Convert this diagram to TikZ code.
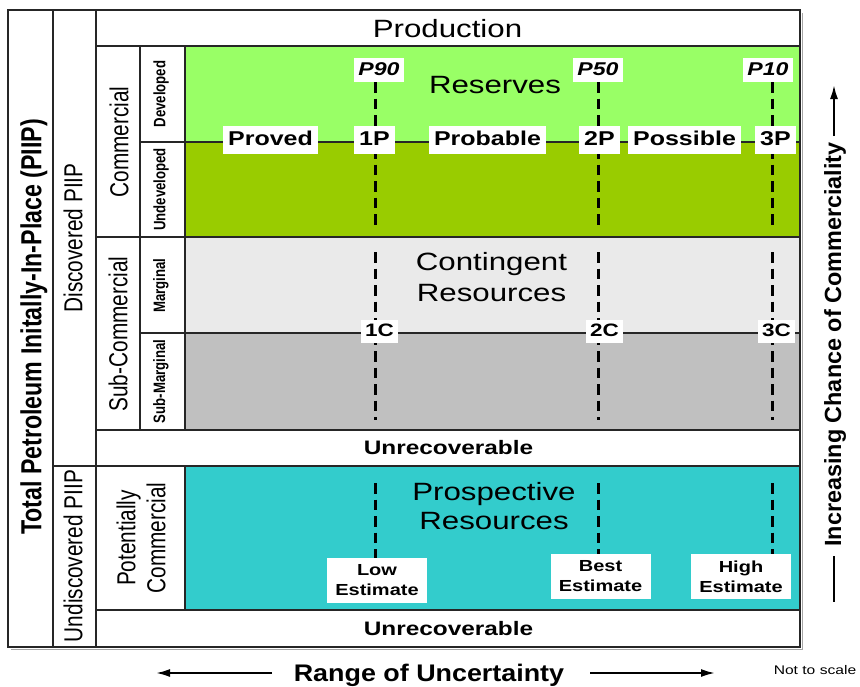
\documentclass[tikz,border=0pt]{standalone}
\usepackage{fontspec}
\setmainfont{Liberation Sans}
\newfontfamily\wf[FakeStretch=1.25]{Liberation Sans}
\newfontfamily\rf[FakeStretch=0.8]{Liberation Sans}
\newfontfamily\mf[FakeStretch=1.12]{Liberation Sans}
\usetikzlibrary{arrows.meta}
\definecolor{lgreen}{HTML}{99FF66}
\definecolor{dgreen}{HTML}{99CC00}
\definecolor{lgray}{HTML}{EAEAEA}
\definecolor{mgray}{HTML}{C0C0C0}
\definecolor{cyanf}{HTML}{33CCCC}
\newcommand\fs[2]{\fontsize{#1}{#2}\selectfont}
\begin{document}
\begin{tikzpicture}[x=1pt,y=-1pt,
  frame/.style={line width=2.2pt, draw=black!85},
  midln/.style={line width=1.5pt, draw=black!85},
  thinln/.style={line width=1.1pt, draw=black!85},
  dashln/.style={line width=3pt, dash pattern=on 10.5pt off 6pt},
  arr/.style={line width=2pt, -{Latex[length=14pt,width=8pt]}},
  lbl/.style={fill=white, inner xsep=5pt, inner ysep=4.5pt, text height=15pt, text depth=4pt, font=\wf\bfseries\fs{20}{24}},
  plbl/.style={fill=white, inner xsep=4pt, inner ysep=3.5pt, text height=13.5pt, text depth=3pt, font=\wf\bfseries\itshape\fs{18.5}{22}},
  clbl/.style={fill=white, inner xsep=4.5pt, inner ysep=3.5pt, text height=13pt, text depth=3pt, font=\wf\bfseries\fs{18}{22}},
  est/.style={fill=white, minimum width=100pt, minimum height=45pt, inner sep=0pt, align=center, font=\wf\bfseries\fs{16}{20}},
  big/.style={font=\wf\fs{25}{31}, align=center, inner sep=0pt},
  unr/.style={font=\wf\bfseries\fs{19.5}{24}, inner sep=0pt},
  vt/.style={rotate=90, inner sep=0pt, align=center},
  vreg/.style={vt, font=\rf\fs{26}{31}},
  vsm/.style={vt, font=\rf\bfseries\fs{16.5}{20}}
]
\useasboundingbox (0,0) rectangle (860,686);
% fills
\fill[lgreen] (185,46) rectangle (800,142);
\fill[dgreen] (185,142) rectangle (800,237);
\fill[lgray] (185,237) rectangle (800,333);
\fill[mgray] (185,333) rectangle (800,430);
\fill[cyanf] (185,466) rectangle (800,610);
% shadow
\draw[black!35, line width=1.6pt] (802.5,13) -- (802.5,649.5) -- (11,649.5);
% grid lines
\draw[thinln] (140,142) -- (800,142);
\draw[thinln] (140,333) -- (800,333);
\draw[frame] (8,10) rectangle (800,647);
\draw[frame] (53,10) -- (53,647);
\draw[frame] (96,10) -- (96,647);
\draw[frame] (96,46) -- (800,46);
\draw[midln] (140,46) -- (140,430);
\draw[midln] (185,46) -- (185,430);
\draw[midln] (185,466) -- (185,610);
\draw[frame] (96,237) -- (800,237);
\draw[frame] (96,430) -- (800,430);
\draw[frame] (53,466) -- (800,466);
\draw[frame] (96,610) -- (800,610);
% dashed lines
\coordinate (ra1) at (375,82);  \coordinate (ra2) at (375,226);
\coordinate (rb1) at (598,82);  \coordinate (rb2) at (598,226);
\coordinate (rc1) at (772,82);  \coordinate (rc2) at (772,226);
\coordinate (ca1) at (375,252); \coordinate (ca2) at (375,420);
\coordinate (cb1) at (598,252); \coordinate (cb2) at (598,420);
\coordinate (cc1) at (772,252); \coordinate (cc2) at (772,420);
\coordinate (pa1) at (375,483); \coordinate (pa2) at (375,558);
\coordinate (pb1) at (598,483); \coordinate (pb2) at (598,554);
\coordinate (pc1) at (772,483); \coordinate (pc2) at (772,554);
\foreach \a/\b in {ra1/ra2,rb1/rb2,rc1/rc2,ca1/ca2,cb1/cb2,cc1/cc2,pa1/pa2,pb1/pb2,pc1/pc2}
  \draw[dashln] (\a) -- (\b);
% labels
\node[plbl] (p90) at (379,70) {P90};
\node[plbl] (p50) at (598,70) {P50};
\node[plbl] (p10) at (768,70) {P10};
\node[lbl] (proved) at (270.5,140) {Proved};
\node[lbl] (l1p) at (374.5,140) {1P};
\node[lbl] (prob) at (487.5,140) {Probable};
\node[lbl] (l2p) at (599.5,140) {2P};
\node[lbl] (poss) at (684.5,140) {Possible};
\node[lbl] (l3p) at (775.5,140) {3P};
\node[clbl] (l1c) at (379.5,331.5) {1C};
\node[clbl] (l2c) at (604.5,331.5) {2C};
\node[clbl] (l3c) at (776.5,331.5) {3C};
\node[est] (low) at (377,580.5) {Low\\Estimate};
\node[est] (best) at (600.5,576.5) {Best\\Estimate};
\node[est] (high) at (741,576.5) {High\\Estimate};
% big texts
\node[big, anchor=base] (prod) at (447.5,37) {Production};
\node[big, anchor=base] (res) at (495,93) {Reserves};
\node[big] (cont) at (491.5,277.5) {Contingent\\Resources};
\node[big, font=\wf\fs{25}{29}] (prosp) at (494,506.5) {Prospective\\Resources};
\node[unr] (unr1) at (448.5,448) {Unrecoverable};
\node[unr] (unr2) at (448.5,628.5) {Unrecoverable};
% rotated texts
\node[vt, font=\rf\bfseries\fs{29}{34}] (tpiip) at (34,327) {Total Petroleum Initally-In-Place (PIIP)};
\node[vreg] (dpiip) at (73,238) {Discovered PIIP};
\node[vreg] (upiip) at (73,556) {Undiscovered PIIP};
\node[vreg] (comm) at (119,142) {Commercial};
\node[vreg] (subc) at (118,334) {Sub-Commercial};
\node[vt, font=\rf\fs{26}{30}] (potc) at (141,538) {Potentially\\Commercial};
\node[vsm] (dev) at (161,94) {Developed};
\node[vsm] (undev) at (161,189.5) {Undeveloped};
\node[vsm] (marg) at (161,285.5) {Marginal};
\node[vsm] (subm) at (161,381.5) {Sub-Marginal};
% right axis
\node[vt, font=\bfseries\fs{23.4}{28}] (inc) at (835,344.5) {Increasing Chance of Commerciality};
\coordinate (ia1) at (834,136); \coordinate (ia2) at (834,85);
\coordinate (ib1) at (834,556); \coordinate (ib2) at (834,602);
\draw[arr] (ia1) -- (ia2);
\draw[line width=2pt] (ib1) -- (ib2);
% bottom axis
\node[font=\mf\bfseries\fs{24}{28}, inner sep=0pt] (range) at (429,675) {Range of Uncertainty};
\coordinate (la1) at (272,673); \coordinate (la2) at (156,673);
\coordinate (lb1) at (590,673); \coordinate (lb2) at (715,673);
\draw[arr] (la1) -- (la2);
\draw[arr] (lb1) -- (lb2);
\node[font=\wf\fs{12.5}{15}, inner sep=0pt] (nts) at (815,670) {Not to scale};
\end{tikzpicture}
\end{document}
